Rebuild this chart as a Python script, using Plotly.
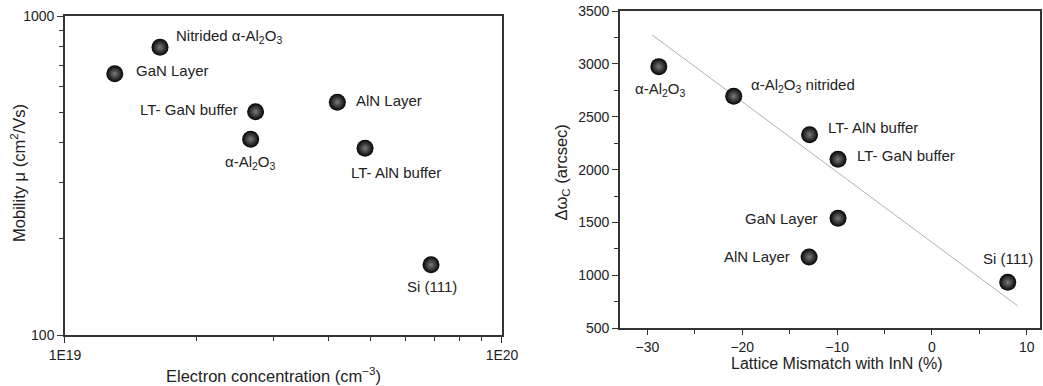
import math
import plotly.graph_objects as go

# ---- Left panel data: mobility vs electron concentration ----
left_labels = ["Nitrided α-Al<sub>2</sub>O<sub>3</sub>", "GaN Layer", "LT- GaN buffer",
               "α-Al<sub>2</sub>O<sub>3</sub>", "AlN Layer", "LT- AlN buffer", "Si (111)"]
left_conc = [1.65e19, 1.30e19, 2.73e19, 2.66e19, 4.20e19, 4.86e19, 6.88e19]
left_mob = [798, 659, 501, 411, 537, 385, 166]

# ---- Right panel data: rocking-curve width vs lattice mismatch ----
right_labels = ["α-Al<sub>2</sub>O<sub>3</sub>", "α-Al<sub>2</sub>O<sub>3</sub> nitrided", "LT- AlN buffer",
                "LT- GaN buffer", "GaN Layer", "AlN Layer", "Si (111)"]
right_mismatch = [-28.8, -20.9, -12.9, -9.9, -9.9, -12.95, 8.0]
right_dw = [2974, 2694, 2331, 2098, 1540, 1175, 935]

fit_x = [-29.5, 9.05]
fit_y = [3273, 712]

left_yticks = [100, 1000]
left_yticktext = ["100", "1000"]
left_xticks = [1e19, 1e20]
left_xticktext = ["1E19", "1E20"]
right_xticks = [-30, -20, -10, 0, 10]
right_yticks = [500, 1000, 1500, 2000, 2500, 3000, 3500]

FONT = "Liberation Sans, Arial, sans-serif"
TXT = "#222222"
AX = "#333333"

marker = dict(size=17, color="#030303",
              gradient=dict(type="radial", color="#7a7a7a"),
              line=dict(width=0))

fig = go.Figure()
fig.add_trace(go.Scatter(x=left_conc, y=left_mob, mode="markers", marker=marker,
                         xaxis="x", yaxis="y", showlegend=False))
fig.add_trace(go.Scatter(x=fit_x, y=fit_y, mode="lines",
                         line=dict(color="#b0b0b0", width=1),
                         xaxis="x2", yaxis="y2", showlegend=False))
fig.add_trace(go.Scatter(x=right_mismatch, y=right_dw, mode="markers", marker=marker,
                         xaxis="x2", yaxis="y2", showlegend=False))

# label offsets (pixels) per point: (xshift, yshift, xanchor)
left_off = [(14, 11, "left"), (19, 3, "left"), (-16, 2, "right"), (0, -23, "center"),
            (17, 2, "left"), (31, -24, "center"), (1, -22, "center")]
right_off = [(2, -23, "center"), (15, 11, "left"), (16, 7, "left"), (17, 4, "left"),
             (-18, 0, "right"), (-17, 0, "right"), (0, 24, "center")]

LBL = dict(family=FONT, size=15, color=TXT)
TTL = dict(family=FONT, size=16.5, color=TXT)

ann = []
for lab, xv, yv, (dx, dy, xa) in zip(left_labels, left_conc, left_mob, left_off):
    ann.append(dict(x=math.log10(xv), y=math.log10(yv), xref="x", yref="y", text=lab,
                    showarrow=False, xshift=dx, yshift=dy, xanchor=xa, yanchor="middle",
                    font=LBL))
for lab, xv, yv, (dx, dy, xa) in zip(right_labels, right_mismatch, right_dw, right_off):
    ann.append(dict(x=xv, y=yv, xref="x2", yref="y2", text=lab,
                    showarrow=False, xshift=dx, yshift=dy, xanchor=xa, yanchor="middle",
                    font=LBL))

# axis titles as paper annotations
ann += [
    dict(x=0.2622, y=0.0285, xref="paper", yref="paper", showarrow=False,
         text="Electron concentration (cm<sup>−3</sup>)", xanchor="center", yanchor="middle", font=TTL),
    dict(x=0.01726, y=0.552, xref="paper", yref="paper", showarrow=False, textangle=-90,
         text="Mobility μ (cm<sup>2</sup>/Vs)", xanchor="center", yanchor="middle", font=TTL),
    dict(x=0.8023, y=0.057, xref="paper", yref="paper", showarrow=False,
         text="Lattice Mismatch with InN (%)", xanchor="center", yanchor="middle",
         font=dict(family=FONT, size=16, color=TXT)),
    dict(x=0.5385, y=0.552, xref="paper", yref="paper", showarrow=False, textangle=-90,
         text="Δω<sub>C</sub> (arcsec)", xanchor="center", yanchor="middle", font=TTL),
]

axis_common = dict(showline=True, linecolor=AX, linewidth=1.5, mirror=True,
                   showgrid=False, zeroline=False, ticks="outside", ticklen=6,
                   tickcolor=AX, tickwidth=1.2, automargin=False,
                   tickfont=dict(family=FONT, size=14, color=TXT))

fig.update_layout(
    width=1043, height=386,
    margin=dict(l=0, r=0, t=0, b=0),
    paper_bgcolor="white", plot_bgcolor="white",
    annotations=ann,
    xaxis=dict(axis_common, type="log", domain=[0.0623, 0.4813], anchor="y",
               range=[19, 20], tickvals=left_xticks, ticktext=left_xticktext,
               minor=dict(ticks="outside", ticklen=4, tickcolor=AX,
                          tickvals=[k * 1e19 for k in range(2, 10)])),
    yaxis=dict(axis_common, type="log", domain=[0.1321, 0.9585], anchor="x",
               range=[2, 3], tickvals=left_yticks, ticktext=left_yticktext,
               minor=dict(ticks="outside", ticklen=4, tickcolor=AX,
                          tickvals=[k * 100 for k in range(2, 10)])),
    xaxis2=dict(axis_common, domain=[0.5944, 0.9971], anchor="y2",
                range=[-32.9, 11.4], tickvals=right_xticks, ticklen=5,
                minor=dict(ticks="outside", ticklen=4, tickcolor=AX,
                           tickvals=[-25, -15, -5, 5])),
    yaxis2=dict(axis_common, domain=[0.1495, 0.9715], anchor="x2",
                range=[500, 3500], tickvals=right_yticks,
                minor=dict(ticks="outside", ticklen=4, tickcolor=AX,
                           tickvals=[750, 1250, 1750, 2250, 2750, 3250])),
)

fig.write_html("out.html", config={"displayModeBar": False},
               post_script="document.body.style.margin='0';document.body.style.overflow='hidden';")
